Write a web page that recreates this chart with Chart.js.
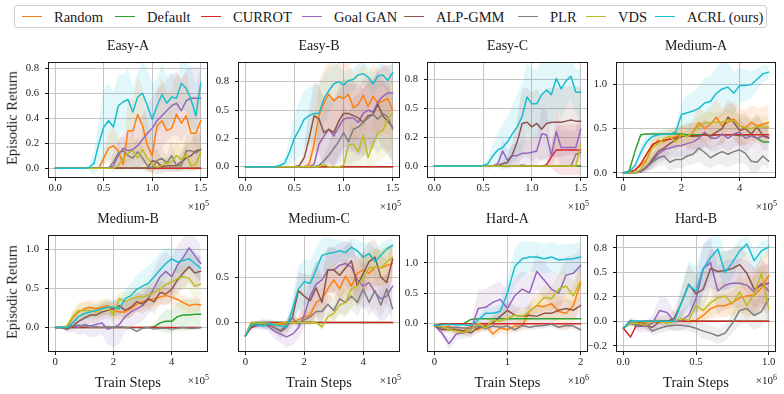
<!DOCTYPE html>
<html>
<head>
<meta charset="utf-8">
<script src="https://cdn.jsdelivr.net/npm/chart.js@4.4.1/dist/chart.umd.min.js"></script>
<style>
  body { margin: 0; width: 784px; height: 394px; background: #fff; position: relative; overflow: hidden;
         font-family: "Liberation Serif", serif; color: #1a1a1a; }
  .txt { position: absolute; white-space: nowrap; line-height: 1; }
  .ttl { font-size: 14px; transform: translate(-50%, -50%); }
  .lab { font-size: 14.5px; transform: translate(-50%, -50%); }
  .ylab { font-size: 14.5px; transform: translate(-50%, -50%) rotate(-90deg); }
  .mult { font-size: 11px; transform: translate(-100%, -50%); }
  .mult sup { font-size: 8px; vertical-align: 4px; }
  #legend { position: absolute; left: 14px; top: 5px; width: 753px; height: 23px; border: 1px solid #cccccc;
            border-radius: 3px; box-sizing: border-box; }
  .lg-line { position: absolute; top: 10px; width: 20px; height: 0; border-top: 1.5px solid; }
  .lg-text { position: absolute; top: 3px; font-size: 14.5px; line-height: 16px; white-space: nowrap; }
</style>
</head>
<body>
<div id="legend"></div>
<script>
// ---- series / categories ----
const SERIES = ['random', 'default', 'currot', 'goalgan', 'alpgmm', 'plr', 'vds', 'acrl'];
const NAMES = ['Random', 'Default', 'CURROT', 'Goal GAN', 'ALP-GMM', 'PLR', 'VDS', 'ACRL (ours)'];
const COLORS = ['#ff7f0e', '#2ca02c', '#d62728', '#9467bd', '#8c564b', '#7f7f7f', '#bcbd22', '#17becf'];

// ---- x positions (train steps, in units of the axis multiplier) ----
const easyX = [0,0.05,0.1,0.15,0.2,0.25,0.3,0.35,0.4,0.45,0.5,0.55,0.6,0.65,0.7,0.75,0.8,0.85,0.9,0.95,1.0,1.05,1.1,1.15,1.2,1.25,1.3,1.35,1.4,1.45,1.5];
const mediumX = [0,0.2,0.4,0.6,0.8,1.0,1.2,1.4,1.6,1.8,2.0,2.2,2.4,2.6,2.8,3.0,3.2,3.4,3.6,3.8,4.0,4.2,4.4,4.6,4.8,5.0];
const hardAX = [0,0.1,0.2,0.3,0.4,0.5,0.6,0.7,0.8,0.9,1.0,1.1,1.2,1.3,1.4,1.5,1.6,1.7,1.8,1.9,2.0];
const hardBX = [0,0.05,0.1,0.15,0.2,0.25,0.3,0.35,0.4,0.45,0.5,0.55,0.6,0.65,0.7,0.75,0.8,0.85,0.9,0.95,1.0];

// ---- tick labels ----
const easyXTicks = [0, 0.5, 1.0, 1.5];
const easyXLabels = ['0.0', '0.5', '1.0', '1.5'];
const mediumXTicks = [0, 2, 4];
const mediumXLabels = ['0', '2', '4'];
const hardAXTicks = [0, 1, 2];
const hardAXLabels = ['0', '1', '2'];
const hardBXTicks = [0, 0.5, 1.0];
const hardBXLabels = ['0.0', '0.5', '1.0'];

const easyAYTicks = [0, 0.2, 0.4, 0.6, 0.8];
const easyAYLabels = ['0.0', '0.2', '0.4', '0.6', '0.8'];
const quarterYTicks = [0, 0.25, 0.5, 0.75];
const quarterYLabels = ['0.0', '0.2', '0.5', '0.8'];
const halfYTicks = [0, 0.5, 1.0];
const halfYLabels = ['0.0', '0.5', '1.0'];
const mediumCYTicks = [0, 0.5];
const mediumCYLabels = ['0.0', '0.5'];
const hardBYTicks = [-0.25, 0, 0.25, 0.5, 0.75];
const hardBYLabels = ['\u22120.2', '0.0', '0.2', '0.5', '0.8'];

// ---- Easy-A ----
const easyA_random  = [0,0,0,0,0,0,0,0,0,0,0.08,0.16,0.18,0.14,0.03,0.3,0.3,0.43,0.34,0.18,0.1,0.34,0.38,0.3,0.32,0.43,0.36,0.42,0.28,0.28,0.38];
const easyA_default = [0,0,0,0,0,0,0,0,0,0,0,0,0,0,0,0,0,0,0,0,0,0,0,0,0,0,0,0,0,0,0];
const easyA_currot  = [0,0,0,0,0,0,0,0,0,0,0,0,0,0,0,0,0,0,0,0,0,0,0,0,0,0,0,0,0,0,0];
const easyA_goalgan = [0,0,0,0,0,0,0,0,0,0,0,0,0.02,0.1,0.16,0.14,0.15,0.18,0.23,0.28,0.32,0.38,0.42,0.46,0.5,0.52,0.46,0.54,0.56,0.56,0.56];
const easyA_alpgmm  = [0,0,0,0,0,0,0,0,0,0,0,0,0,0,0,0,0,0,0,0,0.06,0.05,0.01,0.02,0.02,0.02,0.05,0.08,0.1,0.14,0.15];
const easyA_plr     = [0,0,0,0,0,0,0,0,0,0,0,0,0.05,0.12,0.14,0.1,0.08,0.13,0.08,0.02,0,0.06,0.08,0.04,0.1,0.02,0.02,0.14,0.14,0.12,0.15];
const easyA_vds     = [0,0,0,0,0,0,0,0,0,0,0,0,0,0.02,0.08,0.12,0.14,0.08,0.15,0.08,0.03,0.01,0.02,0.04,0.05,0.1,0.07,0.11,0.02,0.03,0.13];
const easyA_acrl    = [0,0,0,0,0,0,0,0.005,0.04,0.2,0.33,0.38,0.33,0.5,0.53,0.55,0.45,0.57,0.6,0.5,0.39,0.5,0.59,0.52,0.57,0.56,0.68,0.64,0.55,0.42,0.68];
const easyA_random_sd  = [0,0,0,0,0,0,0,0,0,0,0.05,0.12,0.15,0.12,0.05,0.25,0.25,0.3,0.3,0.2,0.15,0.3,0.35,0.3,0.3,0.35,0.35,0.35,0.3,0.3,0.35];
const easyA_goalgan_sd = [0,0,0,0,0,0,0,0,0,0,0,0,0.02,0.1,0.15,0.15,0.15,0.18,0.2,0.22,0.25,0.25,0.25,0.25,0.25,0.25,0.25,0.25,0.25,0.25,0.25];
const easyA_alpgmm_sd  = [0,0,0,0,0,0,0,0,0,0,0,0,0,0,0,0,0,0,0,0,0.1,0.1,0.05,0.05,0.05,0.05,0.08,0.1,0.12,0.15,0.15];
const easyA_plr_sd     = [0,0,0,0,0,0,0,0,0,0,0,0,0.08,0.12,0.12,0.1,0.1,0.12,0.1,0.05,0.02,0.08,0.1,0.06,0.12,0.04,0.04,0.14,0.14,0.12,0.15];
const easyA_vds_sd     = [0,0,0,0,0,0,0,0,0,0,0,0,0,0.03,0.1,0.12,0.14,0.1,0.15,0.1,0.05,0.02,0.03,0.05,0.06,0.12,0.08,0.12,0.04,0.05,0.15];
const easyA_acrl_sd    = [0,0,0,0,0,0,0,0.02,0.1,0.2,0.3,0.3,0.28,0.25,0.22,0.25,0.2,0.2,0.25,0.3,0.28,0.22,0.25,0.22,0.2,0.15,0.18,0.2,0.25,0.25,0.15];

// ---- Easy-B ----
const easyB_random  = [0,0,0,0,0,0,0,0,0,0,0,0,0,0.02,0.2,0.45,0.56,0.64,0.58,0.62,0.6,0.64,0.52,0.55,0.63,0.53,0.62,0.56,0.58,0.6,0.5];
const easyB_default = [0,0,0,0,0,0,0,0,0,0,0,0,0,0,0,0,0,0,0,0,0,0,0,0,0,0,0,0,0,0,0];
const easyB_currot  = [0,0,0,0,0,0,0,0,0,0,0,0,0,0,0,0,0,0,0,0,0,0,0,0,0,0,0,0,0,0,0];
const easyB_goalgan = [0,0,0,0,0,0,0,0,0,0,0,0,0,0,0.02,0.2,0.27,0.33,0.27,0.35,0.42,0.43,0.43,0.39,0.47,0.5,0.48,0.57,0.62,0.65,0.65];
const easyB_alpgmm  = [0,0,0,0,0,0,0,0,0,0,0,0.01,0.08,0.25,0.45,0.42,0.3,0.33,0.3,0.4,0.47,0.47,0.45,0.43,0.39,0.45,0.46,0.55,0.45,0.4,0.35];
const easyB_plr     = [0,0,0,0,0,0,0,0,0,0,0,0,0,0,0,0.01,0.05,0.1,0.16,0.22,0.3,0.22,0.33,0.35,0.39,0.43,0.46,0.42,0.47,0.44,0.33];
const easyB_vds     = [0,0,0,0,0,0,0,0,0,0,0,0,0,0,0,0,0.02,0,0,0,0.01,0.19,0.2,0.13,0.28,0.08,0.2,0.3,0.32,0.42,0.47];
const easyB_acrl    = [0,0,0,0,0,0,0,0.01,0.03,0.13,0.25,0.33,0.42,0.45,0.47,0.47,0.6,0.67,0.73,0.75,0.72,0.76,0.77,0.81,0.82,0.79,0.73,0.8,0.81,0.76,0.83];
const easyB_random_sd  = [0,0,0,0,0,0,0,0,0,0,0,0,0,0.05,0.2,0.3,0.3,0.3,0.3,0.3,0.3,0.28,0.3,0.3,0.28,0.3,0.28,0.3,0.3,0.3,0.3];
const easyB_goalgan_sd = [0,0,0,0,0,0,0,0,0,0,0,0,0,0,0.03,0.2,0.25,0.28,0.28,0.3,0.3,0.3,0.3,0.3,0.3,0.3,0.3,0.28,0.28,0.25,0.25];
const easyB_alpgmm_sd  = [0,0,0,0,0,0,0,0,0,0,0,0.02,0.1,0.25,0.3,0.3,0.3,0.3,0.3,0.3,0.3,0.3,0.3,0.3,0.3,0.3,0.3,0.3,0.3,0.3,0.3];
const easyB_plr_sd     = [0,0,0,0,0,0,0,0,0,0,0,0,0,0,0,0.02,0.05,0.1,0.15,0.2,0.25,0.25,0.28,0.3,0.3,0.3,0.3,0.3,0.3,0.3,0.3];
const easyB_vds_sd     = [0,0,0,0,0,0,0,0,0,0,0,0,0,0,0,0,0,0,0,0,0.02,0.15,0.2,0.15,0.25,0.1,0.2,0.25,0.25,0.3,0.3];
const easyB_acrl_sd    = [0,0,0,0,0,0,0,0.02,0.05,0.12,0.2,0.25,0.25,0.25,0.25,0.25,0.22,0.2,0.18,0.15,0.12,0.1,0.1,0.1,0.1,0.1,0.1,0.1,0.1,0.1,0.08];

// ---- Easy-C ----
const easyC_random  = [0,0,0,0,0,0,0,0,0,0,0,0,0,0,0,0,0,0,0,0,0,0,0,0,0,0,0,0,0,0,0];
const easyC_default = [0,0,0,0,0,0,0,0,0,0,0,0,0,0,0,0,0,0,0,0,0,0,0,0,0,0,0,0,0,0,0];
const easyC_currot  = [0,0,0,0,0,0,0,0,0,0,0,0,0,0,0,0,0,0,0,0,0,0,0,0.01,0.08,0.14,0.14,0.14,0.14,0.14,0.14];
const easyC_goalgan = [0,0,0,0,0,0,0,0,0,0,0,0,0,0.02,0.13,0.05,0.09,0.09,0.11,0.11,0.12,0.13,0.28,0.27,0.09,0.3,0.16,0.16,0.16,0.16,0.32];
const easyC_alpgmm  = [0,0,0,0,0,0,0,0,0,0,0,0,0,0.005,0.02,0.03,0.1,0.21,0.37,0.38,0.34,0.37,0.32,0.37,0.38,0.38,0.38,0.39,0.4,0.39,0.39];
const easyC_plr     = [0,0,0,0,0,0,0,0,0,0,0,0,0,0,0,0,0,0,0.01,0,0,0,0,0,0,0,0,0,0,0.1,0.12];
const easyC_vds     = [0,0,0,0,0,0,0,0,0,0,0,0,0,0,0,0,0,0,0,0,0,0,0,0,0,0,0,0,0,0,0.18];
const easyC_acrl    = [0,0,0,0,0,0,0,0,0,0,0.005,0.02,0.09,0.14,0.16,0.21,0.28,0.34,0.43,0.6,0.54,0.54,0.62,0.66,0.62,0.76,0.67,0.74,0.78,0.64,0.64];
const easyC_currot_sd  = [0,0,0,0,0,0,0,0,0,0,0,0,0,0,0,0,0,0,0,0,0,0,0,0.02,0.1,0.2,0.22,0.22,0.22,0.22,0.22];
const easyC_goalgan_sd = [0,0,0,0,0,0,0,0,0,0,0,0,0,0.02,0.12,0.08,0.1,0.1,0.12,0.12,0.12,0.12,0.22,0.22,0.1,0.22,0.15,0.15,0.15,0.15,0.25];
const easyC_alpgmm_sd  = [0,0,0,0,0,0,0,0,0,0,0,0,0,0.01,0.03,0.05,0.1,0.2,0.3,0.3,0.3,0.3,0.28,0.3,0.3,0.3,0.3,0.3,0.3,0.3,0.3];
const easyC_acrl_sd    = [0,0,0,0,0,0,0,0,0,0,0.01,0.05,0.1,0.15,0.2,0.22,0.25,0.28,0.3,0.3,0.3,0.3,0.3,0.28,0.28,0.25,0.25,0.22,0.2,0.2,0.2];

// ---- Medium-A ----
const mediumA_random  = [0,0,0.03,0.08,0.15,0.3,0.37,0.35,0.39,0.41,0.43,0.41,0.46,0.57,0.5,0.55,0.63,0.53,0.57,0.61,0.53,0.51,0.57,0.53,0.55,0.57];
const mediumA_default = [0,0.02,0.24,0.43,0.44,0.44,0.44,0.44,0.44,0.44,0.44,0.43,0.43,0.43,0.43,0.42,0.43,0.43,0.43,0.43,0.42,0.43,0.43,0.39,0.35,0.35];
const mediumA_currot  = [0,0,0.03,0.1,0.21,0.32,0.35,0.37,0.38,0.39,0.42,0.42,0.42,0.42,0.43,0.42,0.43,0.43,0.43,0.43,0.43,0.43,0.43,0.43,0.43,0.43];
const mediumA_goalgan = [0,0,0,0.02,0.07,0.13,0.21,0.26,0.28,0.3,0.31,0.33,0.35,0.39,0.46,0.39,0.39,0.44,0.39,0.44,0.46,0.39,0.42,0.39,0.42,0.39];
const mediumA_alpgmm  = [0,0,0,0.01,0.06,0.15,0.24,0.28,0.33,0.37,0.41,0.42,0.41,0.42,0.44,0.42,0.46,0.5,0.63,0.57,0.48,0.5,0.44,0.52,0.42,0.4];
const mediumA_plr     = [0,0,0,0.01,0.06,0.12,0.17,0.19,0.12,0.15,0.15,0.19,0.21,0.28,0.23,0.17,0.21,0.24,0.21,0.24,0.26,0.22,0.13,0.12,0.19,0.13];
const mediumA_vds     = [0,0,0,0.04,0.13,0.28,0.33,0.39,0.41,0.35,0.43,0.41,0.46,0.53,0.56,0.57,0.57,0.57,0.6,0.59,0.53,0.51,0.5,0.52,0.52,0.52];
const mediumA_acrl    = [0,0.01,0.08,0.23,0.35,0.41,0.43,0.44,0.44,0.46,0.66,0.68,0.7,0.73,0.79,0.81,0.9,0.95,0.97,0.9,0.99,0.99,1.0,1.06,1.12,1.14];
const mediumA_random_sd  = [0,0,0.02,0.05,0.08,0.1,0.1,0.1,0.1,0.1,0.12,0.12,0.15,0.18,0.18,0.2,0.2,0.2,0.2,0.2,0.2,0.2,0.2,0.2,0.2,0.2];
const mediumA_goalgan_sd = [0,0,0,0.01,0.05,0.08,0.1,0.12,0.12,0.12,0.12,0.15,0.15,0.15,0.15,0.15,0.15,0.15,0.15,0.15,0.15,0.15,0.15,0.15,0.15,0.15];
const mediumA_alpgmm_sd  = [0,0,0,0.01,0.04,0.08,0.1,0.12,0.12,0.12,0.12,0.15,0.15,0.15,0.15,0.15,0.15,0.18,0.2,0.2,0.18,0.18,0.15,0.15,0.15,0.15];
const mediumA_plr_sd     = [0,0,0,0.01,0.05,0.08,0.1,0.1,0.1,0.1,0.1,0.1,0.12,0.15,0.15,0.12,0.12,0.15,0.15,0.15,0.15,0.12,0.12,0.12,0.1,0.1];
const mediumA_vds_sd     = [0,0,0,0.02,0.06,0.1,0.1,0.1,0.1,0.1,0.1,0.1,0.12,0.12,0.12,0.12,0.12,0.12,0.12,0.12,0.12,0.12,0.12,0.12,0.12,0.12];
const mediumA_acrl_sd    = [0,0.01,0.04,0.08,0.08,0.06,0.05,0.05,0.05,0.06,0.15,0.2,0.22,0.25,0.28,0.28,0.3,0.3,0.28,0.25,0.2,0.18,0.15,0.12,0.1,0.08];

// ---- Medium-B ----
const mediumB_random  = [0,0,0,0.12,0.2,0.24,0.26,0.24,0.26,0.28,0.22,0.2,0.2,0.24,0.3,0.33,0.35,0.37,0.39,0.41,0.39,0.36,0.32,0.28,0.3,0.29];
const mediumB_default = [0,0,0,0,0,0,0,0,0,0,0,0,0,0,0,0,0,0.01,0.06,0.08,0.08,0.14,0.16,0.16,0.17,0.17];
const mediumB_currot  = [0,0,0,0,0,0,0,0,0,0,0,0,0,0,0,0,0,0,0,0,0,0,0,0,0,0];
const mediumB_goalgan = [0,0,-0.02,0.02,0,0.04,0.02,0.04,0.06,-0.02,0,0.04,0.14,0.2,0.24,0.28,0.37,0.51,0.65,0.72,0.65,0.8,0.9,1.02,0.92,0.82];
const mediumB_alpgmm  = [0,0,-0.02,0.02,0.08,0.12,0.16,0.16,0.2,0.22,0.24,0.28,0.22,0.26,0.33,0.3,0.37,0.33,0.45,0.43,0.49,0.61,0.7,0.78,0.7,0.72];
const mediumB_plr     = [0,0,0,0.02,0.03,0.02,0,0.01,0,0.01,0,0.01,0,-0.01,-0.05,-0.01,0,-0.02,-0.01,-0.01,-0.02,-0.01,0,-0.01,-0.01,0];
const mediumB_vds     = [0,0,0.02,0.14,0.22,0.22,0.22,0.2,0.24,0.26,0.16,0.37,0.33,0.37,0.39,0.39,0.41,0.45,0.49,0.55,0.58,0.63,0.65,0.63,0.53,0.56];
const mediumB_acrl    = [0,0,0,0.06,0.14,0.18,0.2,0.22,0.24,0.26,0.26,0.24,0.37,0.41,0.49,0.53,0.57,0.65,0.74,0.82,0.88,0.84,0.86,0.88,0.82,0.76];
const mediumB_random_sd  = [0,0,0.02,0.08,0.1,0.1,0.1,0.1,0.1,0.1,0.1,0.1,0.1,0.1,0.1,0.1,0.1,0.1,0.1,0.1,0.1,0.1,0.1,0.1,0.1,0.1];
const mediumB_default_sd = [0,0,0,0,0,0,0,0,0,0,0,0,0,0,0,0,0,0.02,0.1,0.15,0.15,0.18,0.2,0.2,0.2,0.2];
const mediumB_goalgan_sd = [0,0,0.05,0.08,0.1,0.12,0.15,0.15,0.15,0.2,0.25,0.25,0.2,0.2,0.2,0.2,0.2,0.22,0.25,0.25,0.25,0.25,0.25,0.25,0.25,0.25];
const mediumB_alpgmm_sd  = [0,0,0.03,0.05,0.08,0.1,0.1,0.1,0.1,0.1,0.1,0.12,0.12,0.12,0.12,0.12,0.15,0.15,0.15,0.15,0.15,0.18,0.2,0.2,0.2,0.2];
const mediumB_vds_sd     = [0,0,0.03,0.08,0.1,0.1,0.1,0.1,0.1,0.1,0.1,0.12,0.12,0.12,0.12,0.12,0.15,0.15,0.15,0.15,0.15,0.15,0.15,0.15,0.15,0.15];
const mediumB_acrl_sd    = [0,0,0.01,0.05,0.08,0.08,0.08,0.08,0.08,0.1,0.1,0.1,0.12,0.15,0.18,0.2,0.22,0.22,0.22,0.2,0.15,0.15,0.15,0.15,0.15,0.15];

// ---- Medium-C ----
const mediumC_random  = [-0.15,-0.02,-0.01,-0.02,-0.02,-0.03,-0.02,-0.02,0,0.03,0.06,0.08,0.22,0.26,0.37,0.47,0.37,0.51,0.4,0.54,0.58,0.54,0.61,0.6,0.63,0.65];
const mediumC_default = [-0.15,0,0,0,0,0,0,0,0,0,0,0,0,0,0,0,0,0,0,0,0,0,0,0,0,0];
const mediumC_currot  = [-0.15,-0.06,-0.03,-0.01,0,0,0,0,0,0,0,0,0,0,0,0,0,0,0,0,0,0,0,0,0,0];
const mediumC_goalgan = [-0.15,-0.03,-0.04,-0.01,-0.05,-0.1,-0.13,-0.16,-0.13,-0.06,0.08,0.29,0.42,0.47,0.58,0.58,0.63,0.65,0.61,0.47,0.4,0.44,0.33,0.26,0.29,0.4];
const mediumC_alpgmm  = [-0.15,-0.04,-0.02,-0.02,-0.03,-0.06,-0.1,-0.05,0.06,0.35,0.29,0.24,0.38,0.22,0.58,0.58,0.52,0.6,0.68,0.4,0.54,0.67,0.72,0.5,0.44,0.7];
const mediumC_plr     = [-0.15,-0.03,-0.02,-0.03,-0.02,-0.06,-0.09,-0.02,0.05,-0.02,0.03,0.06,0.12,0.12,0.2,0.13,0.26,0.22,0.29,0.22,0.37,0.22,0.35,0.19,0.37,0.15];
const mediumC_vds     = [-0.15,0,-0.01,-0.01,-0.01,-0.02,-0.01,0,0,0,0,0,0,-0.05,0.06,0.1,0.19,0.22,0.37,0.4,0.49,0.6,0.61,0.6,0.67,0.72];
const mediumC_acrl    = [-0.15,-0.03,-0.02,-0.04,-0.01,-0.03,-0.04,-0.05,0.15,0.37,0.45,0.43,0.58,0.74,0.76,0.77,0.79,0.77,0.83,0.79,0.72,0.76,0.67,0.74,0.81,0.85];
const mediumC_random_sd  = [0,0.02,0.02,0.03,0.03,0.03,0.03,0.03,0.03,0.05,0.08,0.1,0.15,0.18,0.2,0.2,0.2,0.2,0.2,0.2,0.2,0.2,0.2,0.2,0.2,0.2];
const mediumC_goalgan_sd = [0,0.03,0.04,0.05,0.06,0.08,0.1,0.12,0.12,0.12,0.15,0.2,0.25,0.25,0.25,0.25,0.25,0.25,0.25,0.25,0.25,0.25,0.25,0.25,0.25,0.25];
const mediumC_alpgmm_sd  = [0,0.03,0.04,0.05,0.05,0.06,0.08,0.08,0.1,0.2,0.25,0.28,0.3,0.3,0.25,0.25,0.25,0.25,0.22,0.25,0.25,0.22,0.2,0.25,0.25,0.2];
const mediumC_plr_sd     = [0,0.02,0.02,0.03,0.03,0.05,0.06,0.05,0.06,0.05,0.06,0.08,0.1,0.1,0.12,0.12,0.15,0.15,0.15,0.15,0.18,0.15,0.18,0.15,0.18,0.15];
const mediumC_vds_sd     = [0,0.01,0.02,0.02,0.02,0.02,0.02,0.02,0.02,0.02,0.02,0.02,0.02,0.04,0.06,0.08,0.12,0.15,0.2,0.2,0.2,0.2,0.2,0.2,0.18,0.15];
const mediumC_acrl_sd    = [0,0.02,0.03,0.05,0.05,0.05,0.05,0.06,0.15,0.25,0.25,0.25,0.25,0.2,0.18,0.15,0.12,0.12,0.1,0.12,0.15,0.12,0.15,0.12,0.1,0.08];

// ---- Hard-A ----
const hardA_random  = [-0.03,-0.07,-0.04,-0.1,-0.12,-0.04,-0.1,-0.02,-0.17,-0.07,-0.1,-0.04,-0.04,0.2,0.3,0.28,0.33,0.2,0.17,0.3,0.67];
const hardA_default = [-0.03,-0.01,-0.01,-0.01,0,0.07,0.08,0.08,0.08,0.08,0.08,0.08,0.08,0.08,0.08,0.08,0.08,0.08,0.08,0.08,0.08];
const hardA_currot  = [-0.03,0,0,0,0,0,0,0,0,0,0,0,0,0,0,0,0,0,0,0,0];
const hardA_goalgan = [-0.03,-0.15,-0.33,-0.17,-0.15,-0.1,0.25,0.27,0.35,0.4,0.25,0.46,0.57,0.51,0.86,0.72,0.57,0.5,0.8,0.83,0.96];
const hardA_alpgmm  = [-0.03,-0.1,-0.1,-0.1,-0.12,-0.15,-0.07,-0.04,0.01,0.12,0.22,0.14,0.12,0.14,0.12,0.17,0.17,0.22,0.25,0.22,0.3];
const hardA_plr     = [-0.03,-0.07,-0.07,-0.06,-0.07,-0.08,-0.04,-0.08,-0.04,-0.06,-0.04,-0.1,-0.03,-0.06,-0.04,-0.03,-0.01,-0.06,-0.03,-0.04,-0.1];
const hardA_vds     = [-0.03,-0.04,-0.1,-0.12,-0.15,-0.1,0.01,-0.07,0.06,0.04,0.09,0.14,0.12,0.2,0.3,0.43,0.41,0.57,0.62,0.46,0.7];
const hardA_acrl    = [-0.03,-0.02,-0.01,-0.02,-0.02,-0.03,0.06,0.17,0.17,0.2,0.51,0.94,1.07,1.1,1.1,1.07,1.1,1.05,1.06,1.07,1.1];
const hardA_random_sd  = [0,0.05,0.05,0.05,0.05,0.05,0.05,0.05,0.08,0.08,0.08,0.08,0.1,0.15,0.2,0.2,0.25,0.25,0.3,0.3,0.3];
const hardA_goalgan_sd = [0,0.05,0.1,0.1,0.1,0.12,0.3,0.3,0.3,0.3,0.3,0.3,0.3,0.3,0.3,0.3,0.3,0.3,0.3,0.3,0.3];
const hardA_alpgmm_sd  = [0,0.05,0.06,0.06,0.06,0.08,0.08,0.08,0.1,0.15,0.15,0.15,0.15,0.15,0.15,0.15,0.15,0.15,0.15,0.15,0.15];
const hardA_plr_sd     = [0,0.04,0.04,0.04,0.04,0.04,0.04,0.04,0.04,0.04,0.04,0.05,0.05,0.05,0.05,0.05,0.05,0.05,0.05,0.05,0.05];
const hardA_vds_sd     = [0,0.05,0.05,0.06,0.06,0.06,0.06,0.06,0.08,0.08,0.1,0.1,0.1,0.12,0.15,0.2,0.2,0.25,0.25,0.25,0.25];
const hardA_acrl_sd    = [0,0.02,0.02,0.02,0.02,0.03,0.06,0.1,0.1,0.12,0.25,0.3,0.3,0.25,0.25,0.25,0.25,0.25,0.25,0.25,0.25];

// ---- Hard-B ----
const hardB_random  = [-0.07,0,-0.02,-0.02,-0.01,-0.01,0,0,0,0,0.01,0.06,0.13,0.16,0.16,0.19,0.24,0.26,0.27,0.34,0.47];
const hardB_default = [-0.07,0,0,0,0,0,0,0,0,0,0,0,0,0,0,0,0,0,0,0,0];
const hardB_currot  = [-0.07,-0.16,-0.01,0,0,0,0,0,0,0,0,0,0,0,0,0,0,0,0,0,0];
const hardB_goalgan = [-0.07,0.01,-0.05,-0.05,-0.02,0.11,0.09,0,0.01,0.06,0.23,0.54,0.6,0.31,0.37,0.39,0.39,0.37,0.3,0.39,0.31];
const hardB_alpgmm  = [-0.07,-0.02,-0.04,-0.04,-0.06,0,0,0.03,0.19,0.38,0.28,0.33,0.54,0.51,0.52,0.54,0.58,0.49,0.33,0.37,0.39];
const hardB_plr     = [-0.07,-0.02,-0.04,-0.02,-0.1,-0.07,-0.05,-0.04,-0.04,-0.05,-0.07,-0.1,-0.12,-0.15,-0.12,-0.02,0.11,0.13,0.06,0.1,0.23];
const hardB_vds     = [-0.07,-0.02,-0.02,-0.04,0,0,-0.02,0,0.03,0.01,0.16,0.11,0.19,0.24,0.26,0.18,0.3,0.16,0.28,0.49,0.13];
const hardB_acrl    = [-0.07,0,0,0,0,0,0,0,0.19,0.37,0.31,0.54,0.65,0.74,0.5,0.6,0.72,0.79,0.62,0.72,0.76];
const hardB_random_sd  = [0,0.01,0.02,0.02,0.02,0.02,0.02,0.02,0.02,0.02,0.04,0.08,0.1,0.12,0.12,0.12,0.15,0.2,0.2,0.25,0.3];
const hardB_goalgan_sd = [0,0.03,0.06,0.06,0.08,0.15,0.15,0.1,0.1,0.12,0.2,0.25,0.25,0.25,0.25,0.25,0.25,0.25,0.25,0.25,0.25];
const hardB_alpgmm_sd  = [0,0.02,0.04,0.04,0.06,0.06,0.06,0.08,0.15,0.2,0.2,0.2,0.2,0.2,0.2,0.2,0.2,0.2,0.2,0.2,0.2];
const hardB_plr_sd     = [0,0.02,0.03,0.03,0.05,0.05,0.05,0.05,0.05,0.05,0.06,0.08,0.08,0.08,0.08,0.1,0.15,0.15,0.15,0.15,0.2];
const hardB_vds_sd     = [0,0.02,0.02,0.03,0.03,0.03,0.03,0.03,0.04,0.05,0.1,0.1,0.15,0.15,0.15,0.15,0.2,0.15,0.2,0.25,0.2];
const hardB_acrl_sd    = [0,0.01,0.01,0.01,0.01,0.01,0.01,0.02,0.15,0.25,0.25,0.25,0.22,0.2,0.2,0.15,0.12,0.1,0.12,0.1,0.08];

// ---- panel table (frame box = left, top, right, bottom in page px) ----
const panels = [
  { title: 'Easy-A', box: [48, 58, 208, 178], x: easyX, xr: [-0.075, 1.575], xt: easyXTicks, xl: easyXLabels, mult: '5',
    yr: [-0.079, 0.847], yt: easyAYTicks, yl: easyAYLabels,
    data: [easyA_random, easyA_default, easyA_currot, easyA_goalgan, easyA_alpgmm, easyA_plr, easyA_vds, easyA_acrl],
    sd: [easyA_random_sd, null, null, easyA_goalgan_sd, easyA_alpgmm_sd, easyA_plr_sd, easyA_vds_sd, easyA_acrl_sd] },
  { title: 'Easy-B', box: [238, 58, 400, 178], x: easyX, xr: [-0.075, 1.575], xt: easyXTicks, xl: easyXLabels, mult: '5',
    yr: [-0.10, 0.92], yt: quarterYTicks, yl: quarterYLabels,
    data: [easyB_random, easyB_default, easyB_currot, easyB_goalgan, easyB_alpgmm, easyB_plr, easyB_vds, easyB_acrl],
    sd: [easyB_random_sd, null, null, easyB_goalgan_sd, easyB_alpgmm_sd, easyB_plr_sd, easyB_vds_sd, easyB_acrl_sd] },
  { title: 'Easy-C', box: [427, 58, 588, 178], x: easyX, xr: [-0.075, 1.575], xt: easyXTicks, xl: easyXLabels, mult: '5',
    yr: [-0.104, 0.90], yt: quarterYTicks, yl: quarterYLabels,
    data: [easyC_random, easyC_default, easyC_currot, easyC_goalgan, easyC_alpgmm, easyC_plr, easyC_vds, easyC_acrl],
    sd: [null, null, easyC_currot_sd, easyC_goalgan_sd, easyC_alpgmm_sd, null, null, easyC_acrl_sd] },
  { title: 'Medium-A', box: [616, 58, 776, 178], x: mediumX, xr: [-0.25, 5.25], xt: mediumXTicks, xl: mediumXLabels, mult: '5',
    yr: [-0.059, 1.25], yt: halfYTicks, yl: halfYLabels,
    data: [mediumA_random, mediumA_default, mediumA_currot, mediumA_goalgan, mediumA_alpgmm, mediumA_plr, mediumA_vds, mediumA_acrl],
    sd: [mediumA_random_sd, null, null, mediumA_goalgan_sd, mediumA_alpgmm_sd, mediumA_plr_sd, mediumA_vds_sd, mediumA_acrl_sd] },
  { title: 'Medium-B', box: [48, 231, 208, 352], x: mediumX, xr: [-0.25, 5.25], xt: mediumXTicks, xl: mediumXLabels, mult: '5',
    yr: [-0.313, 1.18], yt: halfYTicks, yl: halfYLabels,
    data: [mediumB_random, mediumB_default, mediumB_currot, mediumB_goalgan, mediumB_alpgmm, mediumB_plr, mediumB_vds, mediumB_acrl],
    sd: [mediumB_random_sd, mediumB_default_sd, null, mediumB_goalgan_sd, mediumB_alpgmm_sd, null, mediumB_vds_sd, mediumB_acrl_sd] },
  { title: 'Medium-C', box: [238, 231, 400, 352], x: mediumX, xr: [-0.25, 5.25], xt: mediumXTicks, xl: mediumXLabels, mult: '5',
    yr: [-0.327, 0.96], yt: mediumCYTicks, yl: mediumCYLabels,
    data: [mediumC_random, mediumC_default, mediumC_currot, mediumC_goalgan, mediumC_alpgmm, mediumC_plr, mediumC_vds, mediumC_acrl],
    sd: [mediumC_random_sd, null, null, mediumC_goalgan_sd, mediumC_alpgmm_sd, mediumC_plr_sd, mediumC_vds_sd, mediumC_acrl_sd] },
  { title: 'Hard-A', box: [427, 231, 588, 352], x: hardAX, xr: [-0.1, 2.1], xt: hardAXTicks, xl: hardAXLabels, mult: '6',
    yr: [-0.467, 1.454], yt: halfYTicks, yl: halfYLabels,
    data: [hardA_random, hardA_default, hardA_currot, hardA_goalgan, hardA_alpgmm, hardA_plr, hardA_vds, hardA_acrl],
    sd: [hardA_random_sd, null, null, hardA_goalgan_sd, hardA_alpgmm_sd, hardA_plr_sd, hardA_vds_sd, hardA_acrl_sd] },
  { title: 'Hard-B', box: [616, 231, 776, 352], x: hardBX, xr: [-0.05, 1.05], xt: hardBXTicks, xl: hardBXLabels, mult: '6',
    yr: [-0.313, 0.878], yt: hardBYTicks, yl: hardBYLabels,
    data: [hardB_random, hardB_default, hardB_currot, hardB_goalgan, hardB_alpgmm, hardB_plr, hardB_vds, hardB_acrl],
    sd: [hardB_random_sd, null, null, hardB_goalgan_sd, hardB_alpgmm_sd, hardB_plr_sd, hardB_vds_sd, hardB_acrl_sd] }
];

// ---- legend ----
const legendLineX = [7, 100, 186, 287, 389, 503, 571, 640];
const legend = document.getElementById('legend');
NAMES.forEach(function(name, i) {
  const ln = document.createElement('div');
  ln.className = 'lg-line';
  ln.style.left = legendLineX[i] + 'px';
  ln.style.borderColor = COLORS[i];
  legend.appendChild(ln);
  const tx = document.createElement('div');
  tx.className = 'lg-text';
  tx.style.left = (legendLineX[i] + 32) + 'px';
  tx.textContent = name;
  legend.appendChild(tx);
});

function addText(cls, html, x, y) {
  const d = document.createElement('div');
  d.className = 'txt ' + cls;
  d.innerHTML = html;
  d.style.left = x + 'px';
  d.style.top = y + 'px';
  document.body.appendChild(d);
}

function hexA(hex, a) {
  const n = parseInt(hex.slice(1), 16);
  return 'rgba(' + (n >> 16) + ',' + ((n >> 8) & 255) + ',' + (n & 255) + ',' + a + ')';
}

const framePlugin = {
  id: 'frame',
  afterDraw: function(chart) {
    const a = chart.chartArea, ctx = chart.ctx;
    ctx.save();
    ctx.strokeStyle = '#1a1a1a';
    ctx.lineWidth = 1;
    ctx.strokeRect(Math.round(a.left) + 0.5, Math.round(a.top) + 0.5,
                   Math.round(a.right - a.left) - 1, Math.round(a.bottom - a.top) - 1);
    ctx.restore();
  }
};

const PL = 46, PT = 8, PR = 16, PB = 22;
const tickFont = { family: 'Liberation Serif', size: 10.7 };

panels.forEach(function(p, pi) {
  const L = p.box[0], T = p.box[1], R = p.box[2], B = p.box[3];
  const w = R - L + PL + PR, h = B - T + PT + PB;
  const cv = document.createElement('canvas');
  cv.width = w; cv.height = h;
  cv.style.cssText = 'position:absolute;left:' + (L - PL) + 'px;top:' + (T - PT) + 'px;width:' + w + 'px;height:' + h + 'px';
  document.body.appendChild(cv);

  const datasets = [];
  // shaded bands first
  p.data.forEach(function(vals, si) {
    const sd = p.sd[si];
    if (vals.length !== p.x.length) throw new Error(p.title + ' ' + SERIES[si] + ' length ' + vals.length);
    if (!sd) return;
    if (sd.length !== p.x.length) throw new Error(p.title + ' ' + SERIES[si] + ' sd length ' + sd.length);
    datasets.push({
      data: p.x.map(function(x, i) { return { x: x, y: vals[i] + sd[i] }; }),
      borderWidth: 0, pointRadius: 0, fill: '+1', backgroundColor: hexA(COLORS[si], 0.13), order: 100 + si
    });
    datasets.push({
      data: p.x.map(function(x, i) { return { x: x, y: vals[i] - sd[i] }; }),
      borderWidth: 0, pointRadius: 0, fill: false, order: 100 + si
    });
  });
  // mean lines, later series drawn on top
  p.data.forEach(function(vals, si) {
    datasets.push({
      label: NAMES[si],
      data: p.x.map(function(x, i) { return { x: x, y: vals[i] }; }),
      borderColor: COLORS[si], borderWidth: 1.5, pointRadius: 0, fill: false, order: 50 - si
    });
  });

  new Chart(cv, {
    type: 'line',
    data: { datasets: datasets },
    plugins: [framePlugin],
    options: {
      responsive: false, animation: false, devicePixelRatio: 1,
      layout: { padding: { left: 0, top: PT, right: PR, bottom: 0 } },
      plugins: { legend: { display: false }, tooltip: { enabled: false } },
      elements: { line: { tension: 0, borderJoinStyle: 'round', borderCapStyle: 'round' } },
      scales: {
        x: {
          type: 'linear', min: p.xr[0], max: p.xr[1],
          afterBuildTicks: function(s) { s.ticks = p.xt.map(function(v) { return { value: v }; }); },
          afterFit: function(s) { s.height = PB; },
          ticks: { callback: function(v, i) { return p.xl[i]; }, font: tickFont, color: '#1a1a1a',
                   padding: 1, maxRotation: 0, autoSkip: false },
          grid: { color: '#c4c4c4', lineWidth: 1, drawTicks: true, tickLength: 3, tickColor: '#1a1a1a' },
          border: { display: false }
        },
        y: {
          type: 'linear', min: p.yr[0], max: p.yr[1],
          afterBuildTicks: function(s) { s.ticks = p.yt.map(function(v) { return { value: v }; }); },
          afterFit: function(s) { s.width = PL; },
          ticks: { callback: function(v, i) { return p.yl[i]; }, font: tickFont, color: '#1a1a1a',
                   padding: 6, autoSkip: false },
          grid: { color: '#c4c4c4', lineWidth: 1, drawTicks: true, tickLength: 3, tickColor: '#1a1a1a' },
          border: { display: false }
        }
      }
    }
  });

  addText('ttl', p.title, (L + R) / 2, T - 12.5);
  addText('mult', '\u00d710<sup>' + p.mult + '</sup>', R + 1, B + 27.5);
  if (pi % 4 === 0) addText('ylab', 'Episodic Return', 12, (T + B) / 2);
  if (pi >= 4) addText('lab', 'Train Steps', (L + R) / 2, 381.5);
});
</script>
</body>
</html>
